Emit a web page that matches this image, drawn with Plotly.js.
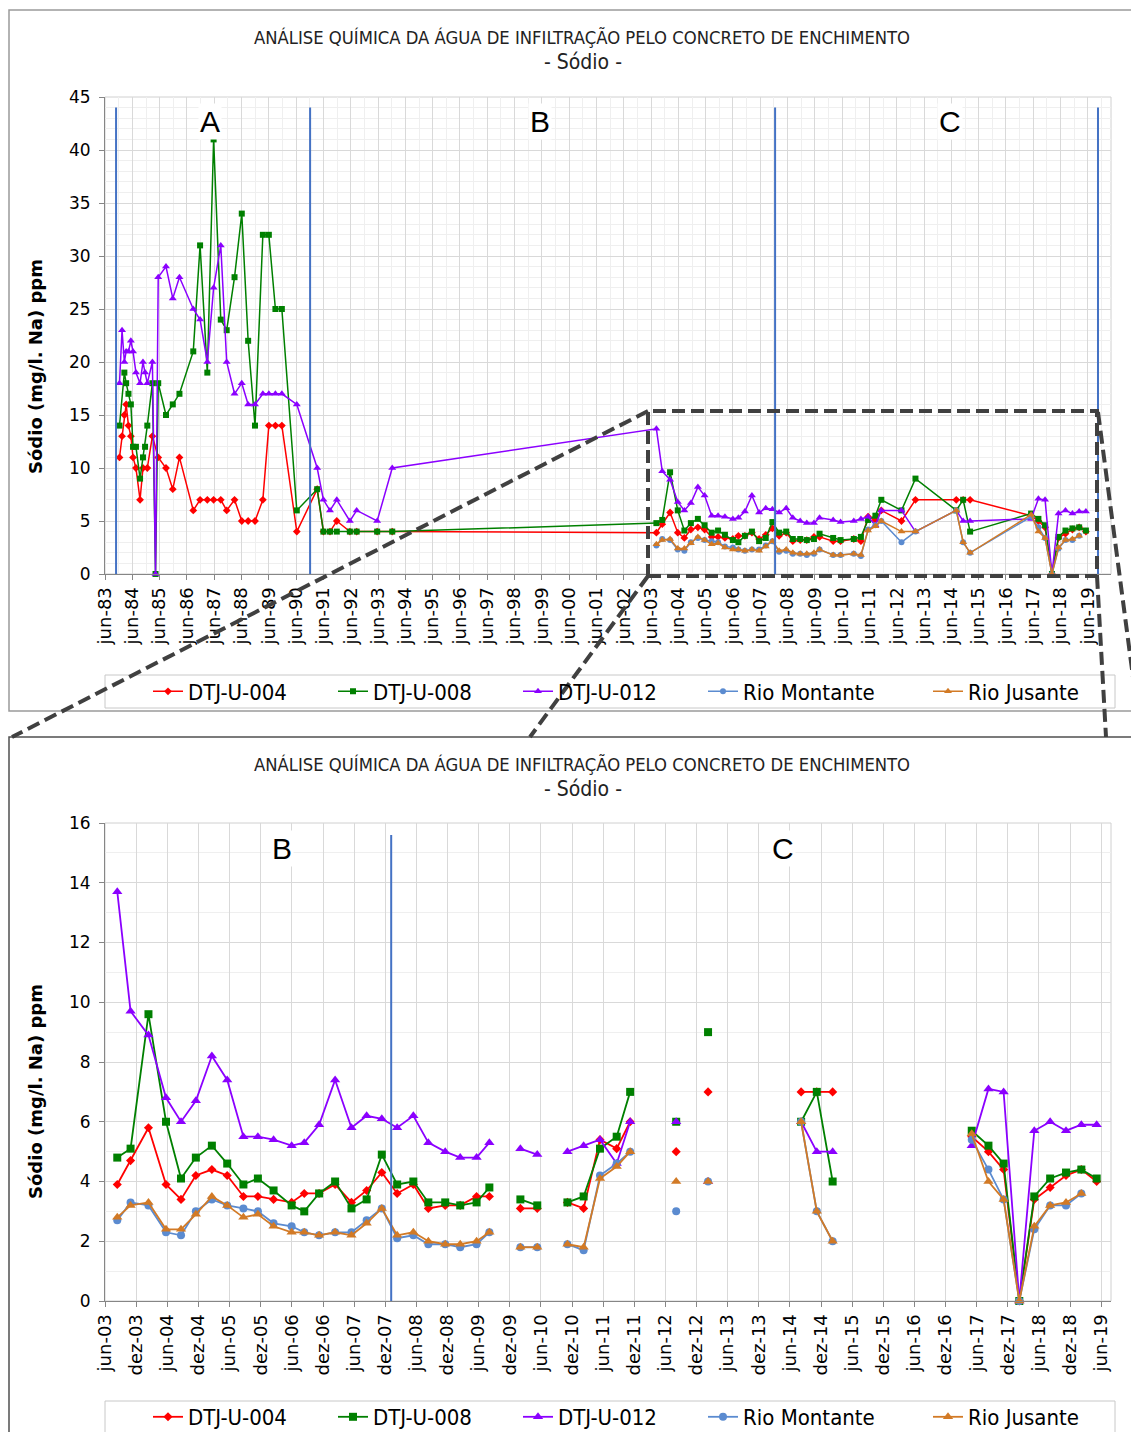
<!DOCTYPE html>
<html>
<head>
<meta charset="utf-8">
<script src="https://cdn.plot.ly/plotly-3.0.1.min.js"></script>
<style>
html,body{margin:0;padding:0;background:#fff;}
#chart{width:1131px;height:1432px;}
</style>
</head>
<body>
<div id="chart"></div>
<script>
// ---------------- DATA ----------------
const seriesNames = ['DTJ-U-004', 'DTJ-U-008', 'DTJ-U-012', 'Rio Montante', 'Rio Jusante'];

// 1983 – 1993 (only in the overview chart)
const earlyDates = ['1983-12-12','1984-01-15','1984-02-15','1984-03-10','1984-04-10','1984-05-12','1984-06-10','1984-07-19','1984-09-12','1984-10-21',
  '1984-11-18','1984-12-18','1985-02-24','1985-04-07','1985-05-13','1985-08-25','1985-11-24','1986-02-21','1986-08-25','1986-11-24',
  '1987-03-01','1987-05-24','1987-08-28','1987-11-15','1988-02-28','1988-06-04','1988-08-28','1988-11-28','1989-03-13','1989-06-01',
  '1989-08-28','1989-11-22','1990-06-10','1991-03-10','1991-06-01','1991-08-28','1991-11-27','1992-05-20','1992-08-19','1993-05-20',
  '1993-12-08'];
const early004 = [11,13,15,16,14,13,11,10,7,10, null,10,13,null,11,10,8,11,6,7, 7,7,7,6,7,5,5,5,7,14, 14,14,4,8,4,4,5,4,4,4, 4];
const early008 = [14,null,19,18,17,16,12,12,9,11, 12,14,18,0,18,15,16,17,21,31, 19,41,24,23,28,34,22,14,32,32, 25,25,6,8,4,4,4,4,4,4, 4];
const early012 = [18,23,20,21,21,22,21,19,18,20, 19,18,20,0,28,29,26,28,25,24, 20,27,31,20,17,18,16,16,17,17, 17,17,16,10,7,6,7,5,6,5, 10];

// 2003 – 2019 (both charts; null = empty cell)
const recentDates = ['2003-08-12','2003-10-29','2004-02-11','2004-05-24','2004-08-20','2004-11-15','2005-02-17','2005-05-18','2005-08-21','2005-11-14',
  '2006-02-14','2006-05-31','2006-08-13','2006-11-08','2007-02-10','2007-05-17','2007-08-14','2007-11-11','2008-02-09','2008-05-14',
  '2008-08-10','2008-11-17','2009-02-13','2009-05-20','2009-08-03','2009-11-01','2010-02-01','2010-05-11','2010-08-01','2010-11-04',
  '2011-02-07','2011-05-14','2011-08-20','2011-11-07','2012-02-01','2012-08-03','2012-11-01','2013-02-06','2013-06-01','2014-08-06',
  '2014-11-06','2015-02-07','2015-06-01','2017-05-03','2017-08-09','2017-11-06','2018-02-06','2018-05-05','2018-08-06','2018-11-07',
  '2019-02-05','2019-05-06'];
const recent004 = [3.9,4.7,5.8,3.9,3.4,4.2,4.4,4.2,3.5,3.5, 3.4,3.3,3.6,3.6,3.9,3.3,3.7,4.3,3.6,3.9, 3.1,3.2,3.2,3.5,3.5,null,3.1,3.1,null,3.3, 3.1,5.4,5.1,6.0,null,5.0,null,7.0,null,7.0, 7.0,7.0,null,5.5,5.0,4.4,0,3.4,3.8,4.2, 4.4,4.0];
const recent008 = [4.8,5.1,9.6,6.0,4.1,4.8,5.2,4.6,3.9,4.1, 3.7,3.2,3.0,3.6,4.0,3.1,3.4,4.9,3.9,4.0, 3.3,3.3,3.2,3.3,3.8,null,3.4,3.2,null,3.3, 3.5,5.1,5.5,7.0,null,6.0,null,9.0,null,6.0, 7.0,4.0,null,5.7,5.2,4.6,0,3.5,4.1,4.3, 4.4,4.1];
const recent012 = [13.7,9.7,8.9,6.8,6.0,6.7,8.2,7.4,5.5,5.5, 5.4,5.2,5.3,5.9,7.4,5.8,6.2,6.1,5.8,6.2, 5.3,5.0,4.8,4.8,5.3,null,5.1,4.9,null,5.0, 5.2,5.4,4.6,6.0,null,6.0,null,4.0,null,6.0, 5.0,5.0,null,5.2,7.1,7.0,0,5.7,6.0,5.7, 5.9,5.9];
const recentMontante = [2.7,3.3,3.2,2.3,2.2,3.0,3.4,3.2,3.1,3.0, 2.6,2.5,2.3,2.2,2.3,2.3,2.7,3.1,2.1,2.2, 1.9,1.9,1.8,1.9,2.3,null,1.8,1.8,null,1.9, 1.7,4.2,4.6,5.0,null,3.0,null,4.0,null,6.0, 3.0,2.0,null,5.4,4.4,3.4,0,2.4,3.2,3.2, 3.6,null];
const recentJusante = [2.8,3.2,3.3,2.4,2.4,2.9,3.5,3.2,2.8,2.9, 2.5,2.3,2.3,2.2,2.3,2.2,2.6,3.1,2.2,2.3, 2.0,1.9,1.9,2.0,2.3,null,1.8,1.8,null,1.9, 1.8,4.1,4.5,5.0,null,4.0,null,4.0,null,6.0, 3.0,2.0,null,5.6,4.0,3.4,0,2.5,3.2,3.3, 3.6,null];

// tick labels
const topTickLabels = ['jun-83','jun-84','jun-85','jun-86','jun-87','jun-88','jun-89','jun-90','jun-91','jun-92','jun-93','jun-94','jun-95',
  'jun-96','jun-97','jun-98','jun-99','jun-00','jun-01','jun-02','jun-03','jun-04','jun-05','jun-06','jun-07','jun-08','jun-09','jun-10',
  'jun-11','jun-12','jun-13','jun-14','jun-15','jun-16','jun-17','jun-18','jun-19'];
const bottomTickLabels = ['jun-03','dez-03','jun-04','dez-04','jun-05','dez-05','jun-06','dez-06','jun-07','dez-07','jun-08','dez-08',
  'jun-09','dez-09','jun-10','dez-10','jun-11','dez-11','jun-12','dez-12','jun-13','dez-13','jun-14','dez-14','jun-15','dez-15',
  'jun-16','dez-16','jun-17','dez-17','jun-18','dez-18','jun-19'];

// phase boundaries / labels
const topPhaseLines = ['1983-10-27','1990-12-05','2007-12-17','2019-10-15'];
const bottomPhaseLines = ['2008-01-05'];
const topPhaseLabels = [['A','1987-04-11'],['B','1999-05-06'],['C','2014-05-14']];
const bottomPhaseLabels = [['B','2006-04-04'],['C','2014-04-22']];

// ---------------- HELPERS ----------------
const W = 1131, H = 1432;
const px = v => v / W;
const py = v => 1 - v / H;
function labelToDate(l) {
  const m = l.slice(0, 3) === 'jun' ? '06' : '12';
  const yy = parseInt(l.slice(4), 10);
  const yr = yy > 50 ? 1900 + yy : 2000 + yy;
  return yr + '-' + m + '-01';
}
const topTickDates = topTickLabels.map(labelToDate);
const bottomTickDates = bottomTickLabels.map(labelToDate);

const colors = ['#FF0000', '#008000', '#8B00FF', '#5B8BD0', '#D27A26'];
const symbols = ['diamond', 'square', 'triangle-up', 'circle', 'triangle-up'];
const topSizes = [6, 6, 7, 6, 7];
const botSizes = [7, 8, 9, 8, 9];
const COND = 'DejaVu Sans Condensed, DejaVu Sans, sans-serif';
const SANS = 'DejaVu Sans, Verdana, sans-serif';

const topY = [early004.concat(recent004), early008.concat(recent008), early012.concat(recent012), recentMontante, recentJusante];
const topX = [earlyDates.concat(recentDates), earlyDates.concat(recentDates), earlyDates.concat(recentDates), recentDates, recentDates];
const botY = [recent004, recent008, recent012, recentMontante, recentJusante];

const traces = [];
seriesNames.forEach((n, i) => {
  traces.push({
    type: 'scatter', mode: 'lines+markers', name: n, x: topX[i], y: topY[i],
    xaxis: 'x', yaxis: 'y', legend: i < 4 ? 'legend' : 'legend3', connectgaps: true, cliponaxis: false,
    line: {color: colors[i], width: 1.5},
    marker: {symbol: symbols[i], size: topSizes[i], color: colors[i]},
    hoverinfo: 'skip'
  });
});
seriesNames.forEach((n, i) => {
  traces.push({
    type: 'scatter', mode: 'lines+markers', name: n, x: recentDates, y: botY[i],
    xaxis: 'x2', yaxis: 'y2', legend: i < 4 ? 'legend2' : 'legend4', connectgaps: false, cliponaxis: false,
    line: {color: colors[i], width: 1.8},
    marker: {symbol: symbols[i], size: botSizes[i], color: colors[i]},
    hoverinfo: 'skip'
  });
});

function xAxis(range, vals, texts, anchor, minor) {
  const a = {
    domain: [px(105), px(1111)], anchor: anchor, type: 'date', range: range,
    tickmode: 'array', tickvals: vals, ticktext: texts, tickangle: -90,
    tickfont: {family: SANS, size: 18, color: '#000'},
    ticks: 'outside', ticklen: 5, tickcolor: '#868686',
    showline: true, linecolor: '#868686', linewidth: 1,
    showgrid: true, gridcolor: '#d9d9d9', gridwidth: 1,
    zeroline: false, automargin: false, fixedrange: true
  };
  if (minor) a.minor = minor;
  return a;
}
function yAxis(domain, range, dtick, anchor) {
  return {
    domain: domain, anchor: anchor, range: range, dtick: dtick, tick0: 0,
    tickfont: {family: SANS, size: 17, color: '#000'},
    ticks: 'outside', ticklen: 5, tickcolor: '#868686', ticklabelstandoff: 5,
    showline: true, linecolor: '#868686', linewidth: 1,
    showgrid: true, gridcolor: '#d9d9d9', gridwidth: 1,
    minor: {dtick: 1, showgrid: true, gridcolor: '#efefef'},
    zeroline: false, automargin: false, fixedrange: true
  };
}

const shapes = [];
// frames
shapes.push({type: 'rect', xref: 'paper', yref: 'paper', x0: px(9), x1: px(1145), y0: py(711), y1: py(10), line: {color: '#9a9a9a', width: 1.5}, layer: 'below'});
shapes.push({type: 'rect', xref: 'paper', yref: 'paper', x0: px(9), x1: px(1145), y0: py(1445), y1: py(737), line: {color: '#505050', width: 1.5}, layer: 'below'});
// plot area borders
shapes.push({type: 'rect', xref: 'paper', yref: 'paper', x0: px(105), x1: px(1111), y0: py(574), y1: py(97), line: {color: '#d0d0d0', width: 1}, layer: 'below'});
shapes.push({type: 'rect', xref: 'paper', yref: 'paper', x0: px(105), x1: px(1111), y0: py(1301), y1: py(823), line: {color: '#d0d0d0', width: 1}, layer: 'below'});
// legend boxes
shapes.push({type: 'rect', xref: 'paper', yref: 'paper', x0: px(105), x1: px(1115), y0: py(708), y1: py(675), line: {color: '#c8c8c8', width: 1}, fillcolor: '#fff', layer: 'below'});
shapes.push({type: 'rect', xref: 'paper', yref: 'paper', x0: px(105), x1: px(1115), y0: py(1434), y1: py(1401), line: {color: '#c8c8c8', width: 1}, fillcolor: '#fff', layer: 'below'});
// phase lines
topPhaseLines.forEach(d => shapes.push({type: 'line', xref: 'x', yref: 'y', x0: d, x1: d, y0: 0, y1: 44, line: {color: '#4472C4', width: 2}}));
bottomPhaseLines.forEach(d => shapes.push({type: 'line', xref: 'x2', yref: 'y2', x0: d, x1: d, y0: 0, y1: 15.6, line: {color: '#4472C4', width: 2}}));
// zoom indicator (dashed)
const dashLine = {color: '#404040', width: 4, dash: '13px,6px'};
shapes.push({type: 'rect', xref: 'paper', yref: 'paper', x0: px(648), x1: px(1097), y0: py(576), y1: py(411), line: dashLine});
shapes.push({type: 'line', xref: 'paper', yref: 'paper', x0: px(648), y0: py(411), x1: px(12), y1: py(737), line: dashLine});
shapes.push({type: 'line', xref: 'paper', yref: 'paper', x0: px(648), y0: py(576), x1: px(530), y1: py(737), line: dashLine});
shapes.push({type: 'line', xref: 'paper', yref: 'paper', x0: px(1098), y0: py(412), x1: px(1140), y1: py(730), line: dashLine});
shapes.push({type: 'line', xref: 'paper', yref: 'paper', x0: px(1097), y0: py(576), x1: px(1106), y1: py(737), line: dashLine});

const annotations = [];
function titleAnn(y1, y2) {
  annotations.push({xref: 'paper', yref: 'paper', x: px(582), y: py(y1), showarrow: false, xanchor: 'center', yanchor: 'middle',
    text: 'ANÁLISE QUÍMICA DA ÁGUA DE INFILTRAÇÃO PELO CONCRETO DE ENCHIMENTO', font: {family: COND, size: 18.3, color: '#222'}});
  annotations.push({xref: 'paper', yref: 'paper', x: px(583), y: py(y2), showarrow: false, xanchor: 'center', yanchor: 'middle',
    text: '- Sódio -', font: {family: COND, size: 21, color: '#222'}});
}
titleAnn(37, 62);
titleAnn(764, 789);
function yTitle(yc) {
  annotations.push({xref: 'paper', yref: 'paper', x: px(35), y: py(yc), showarrow: false, textangle: -90,
    xanchor: 'center', yanchor: 'middle', text: 'Sódio (mg/l. Na) ppm',
    font: {family: SANS, size: 18, color: '#000', weight: 'bold'}});
}
yTitle(367);
yTitle(1092);
topPhaseLabels.forEach(p => annotations.push({xref: 'x', yref: 'y', x: p[1], y: 42.7, text: p[0], showarrow: false,
  bgcolor: '#fff', font: {family: 'Liberation Sans, Arial, sans-serif', size: 30, color: '#000'}}));
bottomPhaseLabels.forEach(p => annotations.push({xref: 'x2', yref: 'y2', x: p[1], y: 15.15, text: p[0], showarrow: false,
  bgcolor: '#fff', font: {family: 'Liberation Sans, Arial, sans-serif', size: 30, color: '#000'}}));

const legendBase = {
  orientation: 'h', xanchor: 'left', yanchor: 'middle', entrywidth: 140, entrywidthmode: 'pixels',
  font: {family: COND, size: 22, color: '#000'}, bgcolor: 'rgba(0,0,0,0)', borderwidth: 0, traceorder: 'normal'
};

const layout = {
  width: W, height: H, margin: {l: 0, r: 0, t: 0, b: 0, autoexpand: false},
  paper_bgcolor: '#fff', plot_bgcolor: '#fff', showlegend: true,
  xaxis: xAxis(['1983-06-01', '2020-04-06'], topTickDates, topTickLabels, 'y',
    {tickmode: 'linear', tick0: '1983-12-01', dtick: 'M12', showgrid: true, gridcolor: '#efefef'}),
  yaxis: yAxis([py(574), py(97)], [0, 45], 5, 'x'),
  xaxis2: xAxis(['2003-06-01', '2019-07-29'], bottomTickDates, bottomTickLabels, 'y2', null),
  yaxis2: yAxis([py(1301), py(823)], [0, 16], 2, 'x2'),
  legend: Object.assign({}, legendBase, {x: px(148), y: py(691.5)}),
  legend3: Object.assign({}, legendBase, {x: px(928), y: py(691.5)}),
  legend2: Object.assign({}, legendBase, {x: px(148), y: py(1417)}),
  legend4: Object.assign({}, legendBase, {x: px(928), y: py(1417)}),
  shapes: shapes,
  annotations: annotations
};

Plotly.newPlot('chart', traces, layout, {displayModeBar: false, staticPlot: true});
</script>
</body>
</html>
